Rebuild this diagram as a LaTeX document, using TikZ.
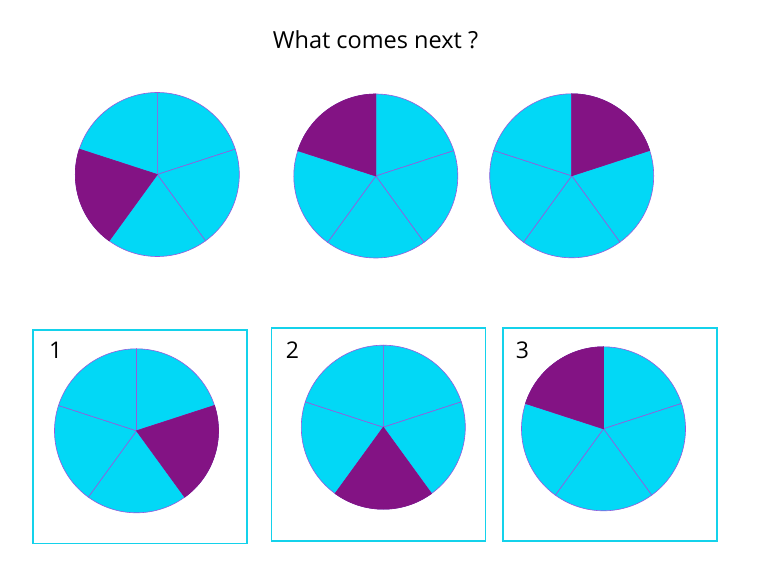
\documentclass[tikz,border=0pt]{standalone}
\usepackage{fontspec}
\setmainfont{Open Sans}
\definecolor{piecyan}{RGB}{2,216,246}
\definecolor{piepurple}{RGB}{131,19,132}
\definecolor{pieline}{RGB}{150,90,220}
\definecolor{boxcyan}{RGB}{20,210,235}

\begin{document}
\begin{tikzpicture}[x=1pt,y=1pt,
  slice/.style={fill=piecyan,draw=pieline,line width=0.6pt},
  oddslice/.style={fill=piepurple,draw=piepurple,line width=0.6pt},
  optbox/.style={draw=boxcyan,line width=1.6pt,minimum width=214pt,minimum height=213.5pt,inner sep=0pt},
  num/.style={font=\fontsize{23}{27}\selectfont,anchor=base}]
 \useasboundingbox (0,0) rectangle (760,568);
 \node[font=\fontsize{23.5}{28}\selectfont,anchor=base] (title) at (375.5,519.7) {What comes next ?};

 % the boxes round the three choices
 \node[optbox] (box1) at (140.2,131.4) {};
 \node[optbox] (box2) at (378.4,133.5) {};
 \node[optbox] (box3) at (609.7,133.5) {};
 \node[num] (n1) at (55.8,209.7) {1};
 \node[num] (n2) at (292.5,209.0) {2};
 \node[num] (n3) at (522.5,209.7) {3};

 % the row of pies, then the choices
 \foreach \name/\x/\y/\hl in {p1/157.3/393.5/162, p2/375.8/392/90, p3/571.7/392.2/18,
                              c1/136.5/137.2/-54, c2/383.3/140.8/-126, c3/603.5/139.2/90} {
   \coordinate (\name) at (\x,\y);
   \foreach \a in {90,18,-54,-126,-198}
     \filldraw[slice] (\name) -- ++(\a:82pt) arc[start angle=\a,end angle=\a-72,radius=82pt] -- cycle;
   \filldraw[oddslice] (\name) -- ++(\hl:82pt) arc[start angle=\hl,end angle=\hl+72,radius=82pt] -- cycle;
 }
\end{tikzpicture}
\end{document}
